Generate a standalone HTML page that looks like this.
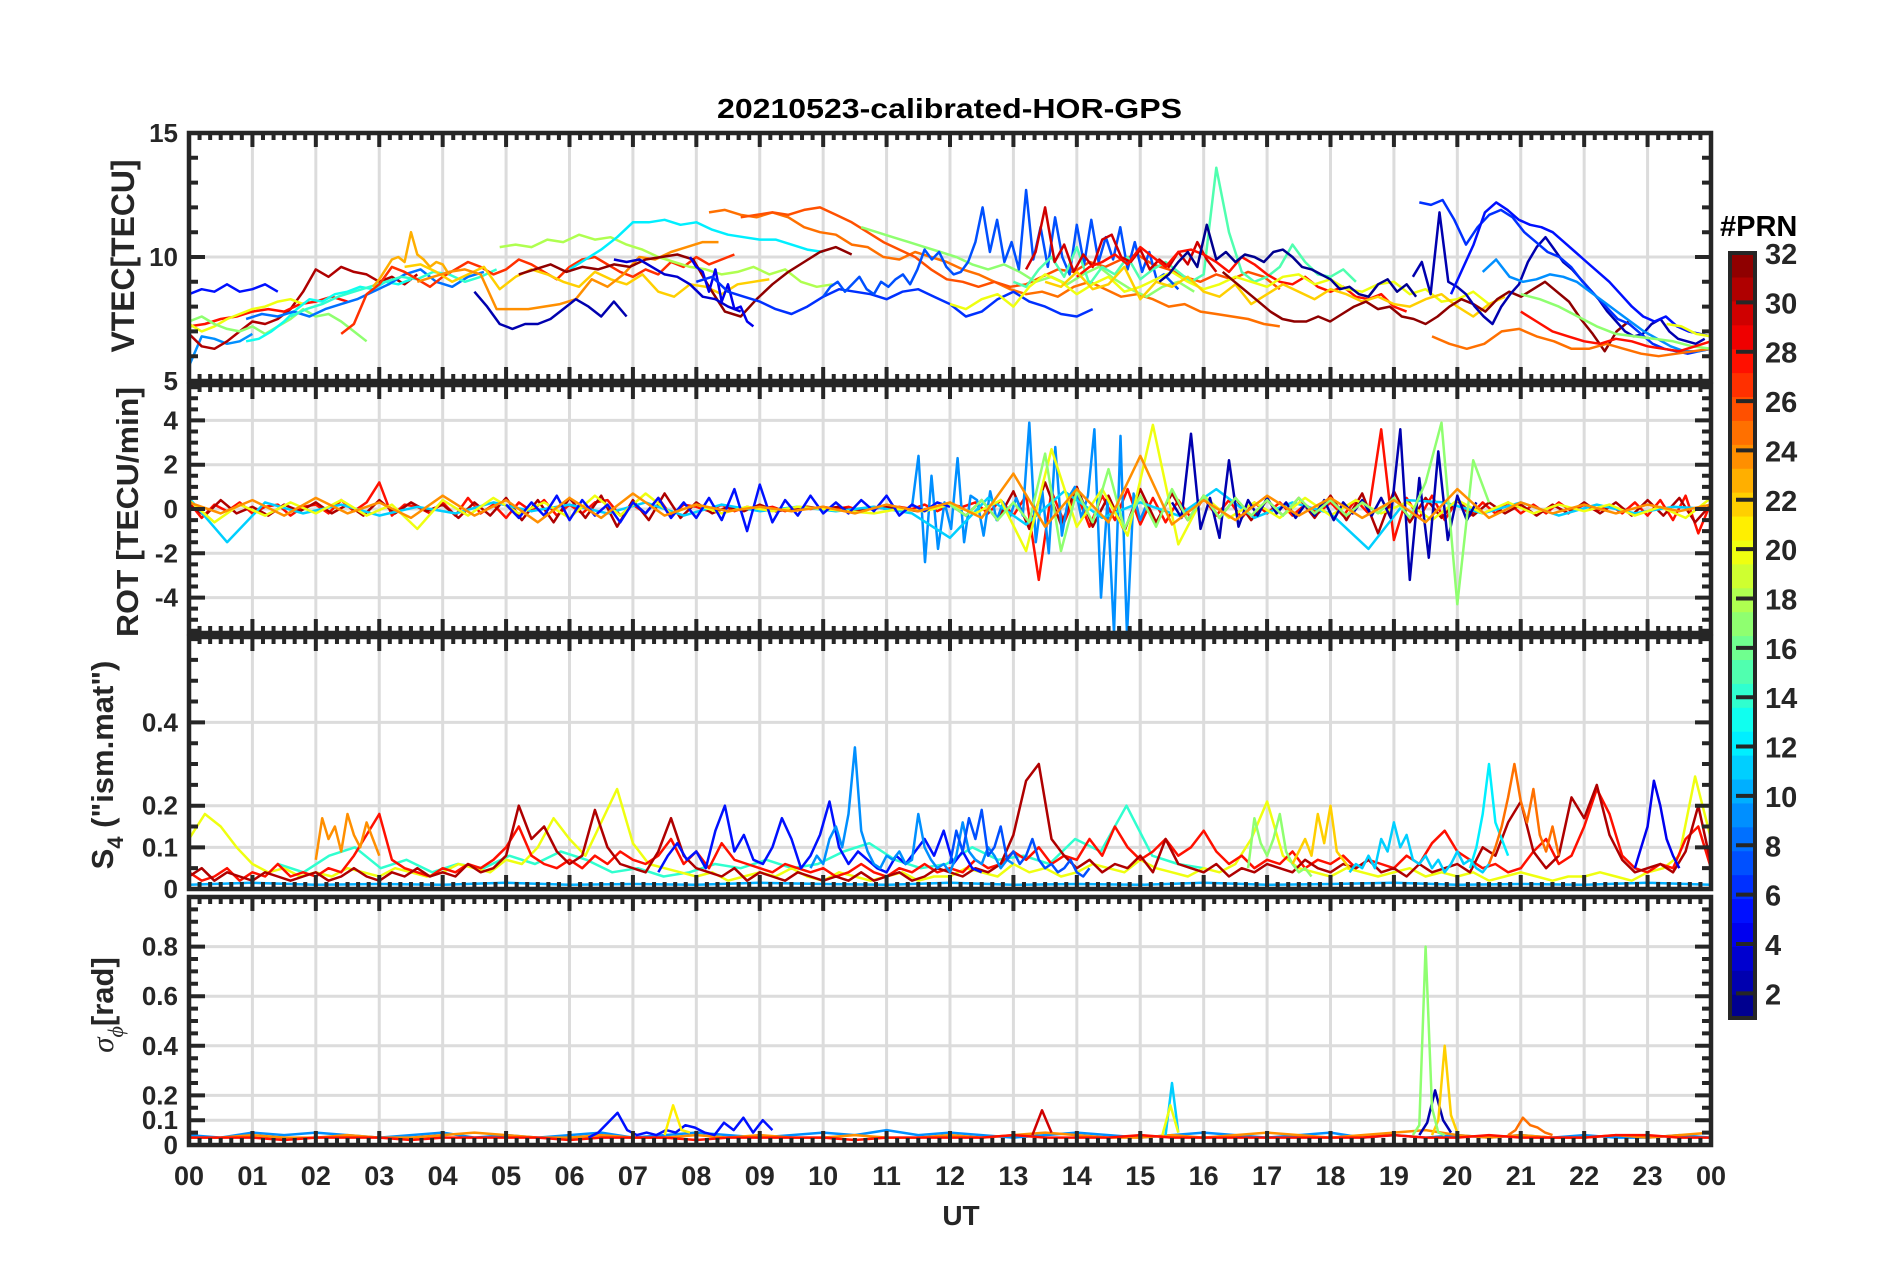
<!DOCTYPE html>
<html><head><meta charset="utf-8"><style>
html,body{margin:0;padding:0;background:#fff;}
svg{display:block;font-family:"Liberation Sans",Arial,sans-serif;font-weight:bold;}
</style></head><body>
<svg id="fig" width="1902" height="1272" viewBox="0 0 1902 1272" xmlns="http://www.w3.org/2000/svg">
<rect width="1902" height="1272" fill="#fff"/>
<text x="717" y="118" font-size="28" fill="#000" textLength="465" lengthAdjust="spacingAndGlyphs">20210523-calibrated-HOR-GPS</text>
<g id="layer"></g>
<text transform="translate(134,256) rotate(-90)" text-anchor="middle" font-size="32" fill="#262626" textLength="193" lengthAdjust="spacingAndGlyphs">VTEC[TECU]</text>
<text transform="translate(138,512) rotate(-90)" text-anchor="middle" font-size="31" fill="#262626" textLength="250" lengthAdjust="spacingAndGlyphs">ROT [TECU/min]</text>
<text transform="translate(113,765) rotate(-90)" text-anchor="middle" font-size="31" fill="#262626">S<tspan font-size="22" dy="10">4</tspan><tspan dy="-10"> ("ism.mat")</tspan></text>
<text transform="translate(113,1005) rotate(-90)" text-anchor="middle" font-size="31" fill="#262626"><tspan font-family="'Liberation Serif',serif" font-style="italic" font-weight="normal">σ</tspan><tspan font-family="'Liberation Serif',serif" font-style="italic" font-weight="normal" font-size="22" dy="10">ϕ</tspan><tspan dy="-10">[rad]</tspan></text>
<text x="961" y="1225" text-anchor="middle" font-size="28" fill="#262626">UT</text>
<text x="1720" y="236" font-size="29" fill="#000">#PRN</text>
</svg>
<script>
// ---------- VTEC data ----------
const vtecPrn=[5,9,31,28,20,17,13,8,14,27,23,22,24,2,18,12,32,3,4,25,26,6,17,7,15,30,28,20,22,1,32,2,6,5,9,25,17,28,20];
const vtecStart=[0,0,0,0,0,0,0.9,0.9,1.6,2.4,2.9,3.4,3.6,4.5,4.9,6.0,5.2,6.7,7.9,8.2,8.7,8.0,10.6,10.0,13.0,13.2,14.0,12.0,13.5,15.3,16.3,19.3,19.4,19.9,20.4,19.6,21.0,21.0,23.3];
const vtecEnd=[1.4,1.0,3.6,2.5,1.8,2.8,3.5,4.65,4.85,8.6,4.1,9.15,8.35,6.9,10.15,10.0,10.45,8.7,8.9,17.2,17.2,14.25,15.85,15.6,18.4,16.2,19.2,20.5,20.75,19.35,22.7,23.9,24,24,24,24,24,24,24];
const vtecVals=[
[8.5,8.7,8.6,8.9,8.6,8.7,8.9,8.6],
[5.6,6.8,6.7,6.5,6.6,6.9],
[6.9,6.4,6.3,6.6,7.0,7.4,7.3,7.5,7.9,8.6,9.5,9.2,9.6,9.4,9.3,9.0,9.2,8.9,9.3],
[7.2,7.3,7.5,7.6,7.8,7.9,7.8,8.1,8.2,8.4,8.2],
[7.3,7.0,7.2,7.5,7.7,7.9,8.0,8.2,8.3,8.1],
[7.4,7.6,7.3,7.1,7.0,7.2,6.9,7.2,7.5,7.9,7.6,7.7,7.4,7.0,6.6],
[6.6,6.7,7.0,7.4,7.9,8.3,8.2,8.5,8.6,8.8,8.7,9.0,8.9,9.1],
[7.5,7.7,7.6,7.8,7.6,7.9,8.1,8.3,8.6,8.9,9.3,9.5,9.0,8.8,9.2,9.4],
[7.6,7.9,8.1,8.4,8.6,8.8,9.0,9.2,9.1,9.4,9.3,9.0,9.2,9.5],
[6.9,7.3,8.5,8.9,9.6,9.4,9.1,8.8,9.2,9.5,9.8,9.6,9.3,9.5,9.9,9.7,9.4,9.1,9.6,9.9,10.0,9.7,9.4,9.2,9.5,9.3,9.8,9.6,10.0,9.7,9.9,10.1],
[8.8,9.1,9.5,9.9,10.0,9.8,11.0,10.1,9.9,9.6,9.8,9.7,9.3],
[9.6,9.7,9.4,9.0,9.3,9.6,8.7,9.2,9.5,9.3,9.0,8.8,9.4,9.1,8.9,9.3,8.6,8.4,8.9,8.8,8.5,8.9,9.0,9.1],
[9.0,9.2,9.4,9.5,9.3,7.9,7.9,7.9,8.0,8.1,8.3,9.1,8.8,9.3,10.0,9.9,10.2,10.4,10.6,10.6],
[8.6,8.0,7.3,7.1,7.3,7.3,7.5,7.9,8.3,8.0,7.6,8.2,7.6],
[10.4,10.5,10.4,10.7,10.6,10.9,10.7,10.8,10.5,10.3,10.0,9.8,9.6,9.5,9.3,9.4,9.6,9.3,9.5,9.0,8.8,8.9],
[9.5,9.9,10.3,10.8,11.4,11.4,11.5,11.3,11.4,11.1,10.9,10.8,10.7,10.7,10.5,10.3,10.2],
[9.3,9.5,9.7,9.4,9.6,9.5,9.7,9.6,9.9,10.0,10.1,9.9,8.8,7.8,7.6,8.3,8.9,9.4,9.8,10.2,10.4,10.1],
[9.9,9.8,9.9,9.6,9.3,9.2,8.9,8.4,8.3,8.0,7.8],
[10.0,9.6,9.4,8.6,9.5,8.2,8.9,7.9,8.0,7.4,7.2],
[11.8,11.9,11.7,11.6,11.8,11.6,11.2,11.0,10.9,10.5,10.4,10.0,9.9,10.2,10.0,9.8,9.5,9.3,9.0,8.7,8.5,8.6,8.4,8.8,9.0,8.7,8.4,8.5,8.3,8.0,8.1,7.8,7.7,7.6,7.5,7.3,7.2],
[11.6,11.7,11.8,11.7,11.9,12.0,11.7,11.4,11.0,10.6,10.3,10.0,9.5,9.1,9.0,8.8,9.0,8.8,8.9,9.2,9.5,9.4,9.8,9.6,9.9,10.1,9.7,9.5,9.2,9.0,9.3,9.1,9.4,9.2,8.7],
[9.0,9.2,8.6,8.4,8.2,7.9,7.7,8.0,8.4,8.7,8.6,8.5,8.3,8.6,8.7,8.4,8.1,7.6,7.8,8.3,8.6,8.2,8.0,7.7,7.6,7.9],
[11.2,11.0,10.8,10.6,10.4,10.2,10.0,9.7,9.5,9.7,9.4,9.0,9.2,8.9,9.3,9.6,9.1,8.7,8.4,8.8,9.0,8.6],
[8.4,8.8,9.0,8.6,8.9,9.2,8.7,8.5,9.0,8.8,9.1,9.3,8.9,9.5,10.3,9.9,10.2,9.6,9.3,9.4,9.8,10.6,12.0,10.2,11.5,9.8,10.6,9.5,12.7,9.9,11.2,9.6,11.6,10.0,9.3,11.3,9.7,11.5,9.8,10.8,9.9,11.2,9.5,10.6,9.4,10.2,9.1,9.3,9.0,8.7],
[9.0,8.8,9.5,10.0,9.2,10.4,8.9,9.6,9.3,10.0,9.1,9.5,9.8,9.4,9.0,9.3,13.6,11.0,9.4,9.0,9.2,9.6,10.5,9.8,9.3,9.2,9.5,9.0],
[9.5,10.2,12.0,9.8,10.5,9.4,10.1,9.6,10.7,10.9,10.0,9.8,10.3,9.5,9.9,9.6,10.2,9.7,10.6,9.9,9.4],
[9.2,9.6,9.8,10.1,9.7,10.4,10.0,9.6,10.2,10.3,10.1,9.8,9.4,10.0,9.7,9.3,9.0,8.9,9.2,8.8,8.6,8.8,8.4,8.3,8.5,8.0,7.8],
[8.1,7.9,8.3,8.5,8.0,8.8,9.3,9.0,8.5,8.9,9.2,8.6,8.8,9.1,9.4,9.0,8.7,8.9,9.2,9.0,8.8,9.2,9.3,8.9,9.1,8.7,8.6,8.9,9.0,8.5,8.7,8.2,8.3,8.6,8.1],
[9.0,8.8,9.4,8.7,8.9,9.6,8.3,9.0,8.8,9.2,8.6,8.4,8.9,8.1,8.5,8.9,8.6,8.3,8.7,8.5,8.2,8.4,8.1,8.0,8.3,8.5,8.0,7.6,8.1,8.4],
[9.0,9.3,9.8,10.2,9.6,11.3,9.9,10.2,9.8,10.1,10.0,9.8,10.2,10.3,10.0,9.6,9.5,9.3,9.1,8.7,8.8,8.5,8.4,8.9,9.1,8.6,8.9,8.4],
[9.4,9.0,8.6,8.2,7.8,7.5,7.4,7.4,7.6,7.4,7.7,8.0,8.2,7.9,8.0,7.6,7.5,7.3,7.6,8.0,8.3,8.1,7.8,8.3,8.6,8.4,8.7,9.0,8.6,8.2,7.5,6.9,6.2,7.0,7.4],
[9.2,9.8,8.5,11.8,9.0,8.8,8.5,8.0,7.6,7.3,8.0,8.5,8.9,9.8,10.4,10.8,10.3,9.8,9.5,9.1,8.7,8.3,7.8,7.4,7.0,6.8,6.9,7.3,7.5,7.0,6.7,6.6,6.5,6.7],
[12.2,12.1,12.3,11.5,10.5,11.2,11.7,11.9,11.6,11.0,10.6,10.2,10.0,9.6,9.0,8.5,8.0,7.5,7.3,6.9,6.5,6.3,6.2,6.1,6.2,6.3],
[8.5,9.5,10.5,11.8,12.2,11.9,11.5,11.3,11.2,11.0,10.6,10.2,9.8,9.4,9.0,8.5,8.0,7.6,7.4,7.6,7.2,7.0,6.9,6.8],
[9.4,9.9,9.2,9.0,9.1,9.3,9.2,9.0,8.6,8.2,7.8,7.4,7.0,6.7,6.4,6.2,6.2,6.3],
[6.8,6.5,6.3,6.5,7.0,7.1,6.8,6.6,6.3,6.3,6.5,6.3,6.1,6.0,6.1,6.2,6.3],
[8.5,8.3,8.0,7.6,7.2,6.9,6.8,6.7,6.6,6.4,6.3],
[7.8,7.4,7.0,6.8,6.6,6.5,6.7,6.6,6.4,6.3,6.2,6.4,6.6],
[7.3,7.2,6.9,6.8]
];
// ---------- ROT data ----------
const rotPrn=[28,31,9,11,20,5,2,17,24];
const rotStart=[0,0,11.4,0,0,5.0,15.5,12.0,0];
const rotEnd=[24,24,15.1,24,24,12.0,20.3,20.5,24];
const rotVals=[
[0.3,-0.4,0.2,-0.1,0.3,-0.2,0.1,0.2,-0.3,0.1,0.2,-0.2,0.4,-0.1,0.3,1.2,-0.3,0.2,0.1,-0.2,0.3,-0.3,0.5,-0.2,0.2,-0.4,0.3,-0.1,0.4,-0.3,0.2,-0.2,0.3,0.4,-0.3,0.2,-0.2,0.5,-0.3,0.2,0.1,-0.1,0.2,-0.1,0.1,0.0,0.1,-0.1,0.1,0.0,0.1,0.0,0.1,-0.1,0.1,0.0,0.1,0.0,0.2,-0.1,0.2,0.1,0.3,-0.2,0.4,-0.3,0.6,-3.2,0.8,-0.6,0.7,-0.8,0.6,-0.5,0.9,-0.7,0.5,-0.6,0.4,-0.4,0.5,-0.3,0.4,-0.4,0.3,-0.2,0.3,-0.3,0.2,-0.2,0.3,-0.3,0.4,-0.2,3.6,-1.4,0.5,-0.4,0.6,-0.5,0.4,-0.3,0.3,-0.2,0.3,-0.2,0.2,-0.2,0.3,-0.1,0.2,-0.1,0.2,-0.2,0.3,-0.3,0.4,-0.5,0.6,-1.1,0.3],
[0.2,-0.3,0.4,-0.2,0.1,-0.3,0.2,-0.1,0.3,-0.2,0.2,-0.3,0.4,-0.2,0.3,-0.1,0.2,-0.4,0.3,-0.3,0.5,-0.5,0.4,-0.6,0.5,-0.4,0.6,-0.8,0.4,-0.5,0.7,-0.4,0.3,-0.2,0.1,-0.1,0.2,-0.1,0.0,0.1,0.0,0.1,-0.1,0.0,0.1,0.0,-0.1,0.1,0.2,-0.3,0.4,-0.5,0.8,-0.9,1.2,-0.7,1.0,-0.8,0.6,-1.0,0.9,-0.6,0.7,-0.5,0.6,-0.4,0.5,-0.5,0.4,-0.3,0.5,-0.4,0.6,-0.5,0.7,-1.1,0.8,-0.6,0.5,-0.4,0.4,-0.3,0.3,-0.2,0.2,-0.3,0.2,-0.2,0.3,-0.2,0.3,-0.3,0.4,-0.3,0.5,-0.6,0.2],
[0.1,2.4,-2.4,1.5,-1.8,0.3,-0.9,2.3,-1.5,0.6,0.4,-1.2,0.8,-0.5,0.3,-0.4,0.5,-0.3,3.9,-1.5,0.8,-2.0,2.8,-1.2,0.5,1.0,-0.4,0.6,3.6,-4.0,0.4,-5.6,3.3,-5.7,0.7,-0.5,0.2],
[0.5,-1.5,0.3,-0.2,0.2,-0.3,0.1,-0.2,0.3,-0.1,0.2,-0.2,0.3,-0.3,0.2,-0.1,0.1,-0.1,0.1,-0.2,-1.3,0.5,-0.7,0.8,-0.4,0.3,-0.3,0.9,-0.4,0.3,-0.2,-1.8,0.4,0.3,-0.2,0.3,-0.3,0.2,-0.2,0.1,0.0],
[0.4,-0.6,0.2,-0.3,0.3,-0.2,0.4,-0.3,0.2,-0.9,0.4,-0.3,0.5,-0.2,0.3,-0.4,0.6,-0.3,0.7,-0.2,0.2,-0.2,0.1,-0.1,0.1,0.0,-0.1,-0.2,0.0,-0.1,0.2,-0.2,0.4,-1.9,2.7,-0.8,0.9,-1.2,3.8,-1.6,0.6,-0.4,0.3,-0.4,0.5,-0.3,0.4,-0.2,0.3,-0.5,0.4,-0.2,0.3,-0.2,0.2,-0.1,0.2,-0.3,0.1,-0.4,0.5],
[0.2,-0.4,0.3,-0.3,0.6,-0.5,0.4,-0.3,0.2,-0.6,0.3,-0.2,0.5,-0.4,0.3,-0.4,0.5,-0.5,0.9,-1.0,1.1,-0.6,0.4,-0.3,0.6,-0.2,0.3,-0.2,0.4,-0.1,0.6,-0.3,0.2,-0.1,0.3,0.1],
[0.3,-0.4,3.4,-0.9,0.5,-1.3,2.2,-0.8,0.4,-0.3,0.5,-0.2,0.3,-0.4,0.2,-0.3,0.4,-0.5,0.3,-0.2,0.4,-0.3,0.5,-0.4,3.6,-3.2,1.4,-2.2,2.6,-1.4,0.6,-0.5,0.3],
[0.2,-0.3,0.4,-0.5,0.3,-0.6,2.5,-1.9,0.8,-0.6,1.8,-0.9,0.6,-0.8,0.9,-0.5,0.6,-0.4,0.5,-0.3,0.4,-0.3,0.5,-0.2,0.4,-0.3,0.3,-0.2,0.5,-0.4,1.2,3.9,-4.3,2.2,0.3],
[0.3,-0.2,0.4,-0.3,0.5,-0.2,0.3,-0.4,0.6,-0.3,0.4,-0.6,0.5,-0.4,0.7,-0.3,0.2,-0.1,0.1,-0.1,0.1,-0.2,0.2,-0.1,0.3,-0.4,1.6,-0.8,0.9,-0.6,2.4,-0.7,0.4,-0.5,0.6,-0.3,0.5,-0.4,0.4,-0.6,0.9,-0.4,0.3,-0.2,0.2,-0.2,0.2,-0.1,0.2]
];
// ---------- S4 data ----------
const s4Prn=[10,14,20,28,31,5,9,7,11,12,25,17,22,4,24];
const s4Start=[0,1.4,0,0,0,7.4,9.8,12.0,18.3,20.2,20.5,16.7,17.4,22.8,2.0];
const s4End=[24,16.0,24,24,24,12.5,13.0,14.2,20.5,20.8,21.6,17.7,18.3,23.5,3.0];
const s4Vals=[
[0.01,0.015,0.01,0.012,0.01,0.015,0.01,0.012,0.01,0.015,0.012,0.01,0.015,0.01,0.012,0.01,0.015,0.01,0.012,0.015,0.01,0.012,0.01,0.015,0.01],
[0.06,0.04,0.08,0.10,0.05,0.07,0.04,0.06,0.05,0.08,0.06,0.09,0.07,0.04,0.05,0.03,0.04,0.06,0.05,0.07,0.05,0.06,0.09,0.11,0.07,0.05,0.06,0.10,0.07,0.08,0.06,0.12,0.09,0.20,0.08,0.06,0.05],
[0.12,0.18,0.15,0.10,0.06,0.04,0.05,0.03,0.04,0.03,0.05,0.04,0.03,0.05,0.04,0.03,0.04,0.06,0.05,0.04,0.07,0.06,0.10,0.17,0.12,0.08,0.16,0.24,0.11,0.06,0.05,0.04,0.03,0.04,0.02,0.03,0.04,0.03,0.05,0.03,0.02,0.04,0.03,0.02,0.03,0.04,0.02,0.03,0.03,0.05,0.04,0.03,0.06,0.04,0.05,0.03,0.04,0.06,0.05,0.04,0.07,0.05,0.04,0.03,0.05,0.04,0.06,0.12,0.21,0.08,0.05,0.04,0.03,0.05,0.04,0.03,0.04,0.05,0.03,0.04,0.03,0.04,0.02,0.03,0.04,0.03,0.02,0.03,0.03,0.04,0.03,0.02,0.04,0.05,0.08,0.27,0.12],
[0.04,0.02,0.03,0.05,0.02,0.04,0.03,0.06,0.03,0.04,0.03,0.05,0.04,0.08,0.13,0.18,0.07,0.05,0.04,0.03,0.05,0.04,0.06,0.05,0.07,0.10,0.15,0.08,0.06,0.05,0.07,0.05,0.08,0.06,0.09,0.07,0.06,0.08,0.12,0.06,0.09,0.05,0.11,0.07,0.06,0.05,0.04,0.06,0.05,0.04,0.05,0.03,0.04,0.06,0.04,0.03,0.05,0.04,0.06,0.04,0.05,0.04,0.07,0.05,0.06,0.09,0.07,0.10,0.06,0.08,0.07,0.12,0.08,0.15,0.10,0.07,0.09,0.12,0.08,0.10,0.14,0.09,0.06,0.08,0.05,0.07,0.06,0.09,0.05,0.07,0.06,0.08,0.05,0.07,0.06,0.05,0.08,0.06,0.11,0.14,0.09,0.07,0.05,0.06,0.04,0.05,0.09,0.12,0.06,0.08,0.15,0.24,0.18,0.08,0.05,0.04,0.06,0.05,0.12,0.15,0.05],
[0.03,0.05,0.02,0.04,0.03,0.02,0.04,0.03,0.02,0.03,0.04,0.02,0.03,0.05,0.03,0.02,0.04,0.03,0.05,0.03,0.04,0.03,0.06,0.04,0.05,0.08,0.20,0.12,0.15,0.09,0.06,0.08,0.19,0.10,0.06,0.05,0.04,0.09,0.17,0.08,0.05,0.04,0.03,0.05,0.02,0.04,0.03,0.02,0.04,0.03,0.02,0.03,0.02,0.04,0.02,0.03,0.04,0.02,0.03,0.05,0.04,0.03,0.05,0.04,0.06,0.13,0.26,0.30,0.12,0.08,0.05,0.07,0.04,0.06,0.05,0.08,0.04,0.12,0.06,0.05,0.04,0.06,0.03,0.05,0.04,0.06,0.05,0.04,0.07,0.05,0.04,0.06,0.05,0.07,0.04,0.05,0.03,0.06,0.04,0.05,0.06,0.04,0.10,0.08,0.16,0.21,0.09,0.05,0.08,0.22,0.17,0.25,0.13,0.07,0.04,0.05,0.06,0.04,0.09,0.20,0.06],
[0.04,0.08,0.11,0.07,0.09,0.05,0.14,0.20,0.09,0.13,0.07,0.06,0.10,0.17,0.12,0.05,0.08,0.13,0.21,0.10,0.06,0.09,0.07,0.05,0.04,0.08,0.06,0.09,0.12,0.08,0.14,0.06,0.09,0.05,0.04],
[0.05,0.08,0.06,0.12,0.15,0.10,0.18,0.34,0.14,0.09,0.06,0.05,0.08,0.07,0.09,0.06,0.07,0.18,0.10,0.07,0.05,0.06,0.04,0.08,0.16,0.09,0.07,0.06,0.10,0.08,0.05,0.07,0.06],
[0.06,0.14,0.09,0.17,0.12,0.19,0.08,0.10,0.15,0.07,0.09,0.06,0.08,0.12,0.07,0.05,0.06,0.04,0.05,0.07,0.04,0.03,0.05],
[0.04,0.06,0.05,0.08,0.05,0.12,0.09,0.16,0.10,0.13,0.07,0.06,0.08,0.05,0.07,0.04,0.06,0.09,0.06,0.07,0.05,0.04,0.06],
[0.05,0.10,0.18,0.30,0.16,0.12,0.08],
[0.06,0.10,0.15,0.22,0.30,0.21,0.16,0.24,0.13,0.09,0.15,0.08],
[0.05,0.17,0.11,0.08,0.12,0.18,0.09,0.06,0.04,0.05,0.03],
[0.06,0.09,0.12,0.08,0.18,0.11,0.20,0.09,0.07,0.05],
[0.05,0.10,0.15,0.26,0.20,0.12,0.08,0.05],
[0.07,0.17,0.12,0.15,0.09,0.18,0.13,0.10,0.16,0.12,0.08]
];
// ---------- sigma-phi data ----------
const phiPrn=[9,24,28,5,21,30,11,20,25,2,22,17];
const phiStart=[0,0,0,6.3,7.5,13.3,15.4,15.35,20.8,19.4,19.6,19.3];
const phiEnd=[24,24,24,9.2,7.9,13.6,15.6,15.6,21.5,19.9,20.0,19.8];
const phiVals=[
[0.04,0.03,0.05,0.04,0.05,0.04,0.03,0.04,0.05,0.03,0.04,0.03,0.04,0.05,0.03,0.04,0.05,0.04,0.03,0.04,0.05,0.04,0.06,0.04,0.05,0.04,0.03,0.04,0.05,0.04,0.03,0.04,0.05,0.04,0.03,0.04,0.05,0.03,0.04,0.03,0.04,0.03,0.04,0.03,0.04,0.03,0.03,0.04,0.03],
[0.03,0.03,0.04,0.03,0.03,0.04,0.03,0.03,0.04,0.05,0.04,0.03,0.03,0.04,0.03,0.03,0.04,0.03,0.04,0.03,0.03,0.04,0.03,0.03,0.04,0.03,0.04,0.05,0.04,0.03,0.03,0.04,0.03,0.04,0.05,0.04,0.03,0.04,0.05,0.06,0.04,0.03,0.04,0.03,0.03,0.04,0.03,0.04,0.05],
[0.03,0.03,0.03,0.02,0.03,0.03,0.03,0.02,0.03,0.03,0.03,0.03,0.02,0.03,0.03,0.03,0.02,0.03,0.03,0.03,0.03,0.02,0.03,0.03,0.03,0.03,0.04,0.03,0.03,0.03,0.04,0.03,0.03,0.03,0.03,0.03,0.03,0.03,0.04,0.03,0.03,0.04,0.03,0.03,0.03,0.04,0.04,0.03,0.03],
[0.03,0.05,0.09,0.13,0.06,0.04,0.05,0.04,0.06,0.05,0.08,0.07,0.05,0.04,0.09,0.06,0.11,0.05,0.10,0.06],
[0.04,0.16,0.06,0.05],
[0.04,0.14,0.05],
[0.04,0.25,0.05],
[0.04,0.16,0.05],
[0.04,0.06,0.11,0.08,0.07,0.05,0.04],
[0.04,0.09,0.22,0.10,0.05],
[0.04,0.10,0.40,0.12,0.05],
[0.04,0.08,0.80,0.15,0.05,0.04]
];
// ---------- axis ticks ----------
const hourLabels=["00","01","02","03","04","05","06","07","08","09","10","11","12","13","14","15","16","17","18","19","20","21","22","23","00"];
const vtecTicks=[5,10,15];
const rotTicks=[-4,-2,0,2,4];
const s4Ticks=[0,0.1,0.2,0.4];
const phiTicks=[0,0.1,0.2,0.4,0.6,0.8];
const cbTicks=[2,4,6,8,10,12,14,16,18,20,22,24,26,28,30,32];

const NS="http://www.w3.org/2000/svg";
const layer=document.getElementById('layer');
const X0=189,X1=1711;
const xs=h=>X0+h/24*(X1-X0);
function jet(t){
  const r=Math.min(Math.max(Math.min(4*t-1.5,-4*t+4.5),0),1);
  const g=Math.min(Math.max(Math.min(4*t-0.5,-4*t+3.5),0),1);
  const b=Math.min(Math.max(Math.min(4*t+0.5,-4*t+2.5),0),1);
  return `rgb(${Math.round(r*255)},${Math.round(g*255)},${Math.round(b*255)})`;
}
const prnColor=p=>jet((p-0.5)/32);
function mk(tag,attrs,parent){const e=document.createElementNS(NS,tag);for(const k in attrs)e.setAttribute(k,attrs[k]);(parent||layer).appendChild(e);return e;}

const panels=[
 {key:'vtec',top:133,bot:381,min:5,max:15,ticks:vtecTicks,minor:1,prn:vtecPrn,st:vtecStart,en:vtecEnd,vals:vtecVals,grid:vtecTicks},
 {key:'rot',top:385,bot:633,min:-5.6,max:5.6,ticks:rotTicks,minor:0.5,prn:rotPrn,st:rotStart,en:rotEnd,vals:rotVals,grid:rotTicks},
 {key:'s4',top:637,bot:889,min:0,max:0.605,ticks:s4Ticks,minor:0.05,prn:s4Prn,st:s4Start,en:s4End,vals:s4Vals,grid:s4Ticks},
 {key:'sigma-phi',top:897,bot:1145,min:0,max:1.0,ticks:phiTicks,minor:0.05,prn:phiPrn,st:phiStart,en:phiEnd,vals:phiVals,grid:phiTicks}
];
panels.forEach((P,pi)=>{
  const ys=v=>P.bot-(v-P.min)/(P.max-P.min)*(P.bot-P.top);
  const g=mk('g',{});
  
  
  const cp=mk('clipPath',{id:'cp'+pi},g);
  mk('rect',{x:X0,y:P.top,width:X1-X0,height:P.bot-P.top},cp);
  for(let h=1;h<24;h++){const l=mk('line',{x1:xs(h),x2:xs(h),y1:P.top,y2:P.bot,stroke:'#dcdcdc','stroke-width':3},g);
    }
  P.grid.forEach(v=>{if(v<=P.min||v>=P.max)return;const l=mk('line',{x1:X0,x2:X1,y1:ys(v),y2:ys(v),stroke:'#dcdcdc','stroke-width':3},g);
    });
  const sg=mk('g',{'clip-path':`url(#cp${pi})`},g);
  P.vals.forEach((arr,i)=>{
    const n=arr.length,st=P.st[i],en=P.en[i];
    const pts=arr.map((v,j)=>xs(st+(n>1?j*(en-st)/(n-1):0)).toFixed(1)+','+ys(v).toFixed(1)).join(' ');
    const pl=mk('polyline',{points:pts,fill:'none',stroke:prnColor(P.prn[i]),'stroke-width':2.5,'stroke-linejoin':'round'},sg);
    
    
  });
  let d='';
  for(let m=0;m<=144;m++){const x=xs(m/6);const L=(m%6===0)?14:7;d+=`M${x},${P.top}v${L}M${x},${P.bot}v${-L}`;}
  const nMinor=Math.round((P.max-P.min)/P.minor)+1;
  const first=Math.ceil(P.min/P.minor-1e-6)*P.minor;
  for(let k=0;k<nMinor+1;k++){const v=first+k*P.minor;if(v>P.max+1e-9)break;const y=ys(v);
    const major=P.ticks.some(t=>Math.abs(t-v)<1e-6);const L=major?16:9;d+=`M${X0},${y}h${L}M${X1},${y}h${-L}`;}
  const tk=mk('path',{d:d,stroke:'#262626','stroke-width':4,fill:'none'},g);
  
  const fr=mk('rect',{x:X0,y:P.top,width:X1-X0,height:P.bot-P.top,fill:'none',stroke:'#262626','stroke-width':4.5},g);
  
  P.ticks.forEach(v=>{const t=mk('text',{x:178,y:ys(v)+9,'text-anchor':'end','font-size':26,fill:'#262626'},g);
    t.textContent=String(v);
    });
});
hourLabels.forEach((s,i)=>{const t=mk('text',{x:xs(i),y:1185,'text-anchor':'middle','font-size':27,fill:'#262626'});
  t.textContent=s;
  });
const CB={x:1730,w:25,top:253,bot:1018};
const cg=mk('g',{});

const bh=(CB.bot-CB.top)/32;
for(let p=1;p<=32;p++){const r=mk('rect',{x:CB.x,y:CB.bot-p*bh,width:CB.w,height:bh+0.6,fill:prnColor(p)},cg);
  }
let cd='';
const cy=v=>CB.bot-(v-1)/31*(CB.bot-CB.top);
cbTicks.forEach(v=>{cd+=`M${CB.x+6},${cy(v)}H${CB.x+CB.w}`;});
mk('path',{d:cd,stroke:'#262626','stroke-width':4},cg);
mk('rect',{x:CB.x,y:CB.top,width:CB.w,height:CB.bot-CB.top,fill:'none',stroke:'#262626','stroke-width':4},cg);
cbTicks.forEach(v=>{const t=mk('text',{x:1765,y:cy(v)+11,'font-size':29,'font-weight':'bold',fill:'#262626'},cg);
  t.textContent=String(v);
  });
</script>
</body></html>
